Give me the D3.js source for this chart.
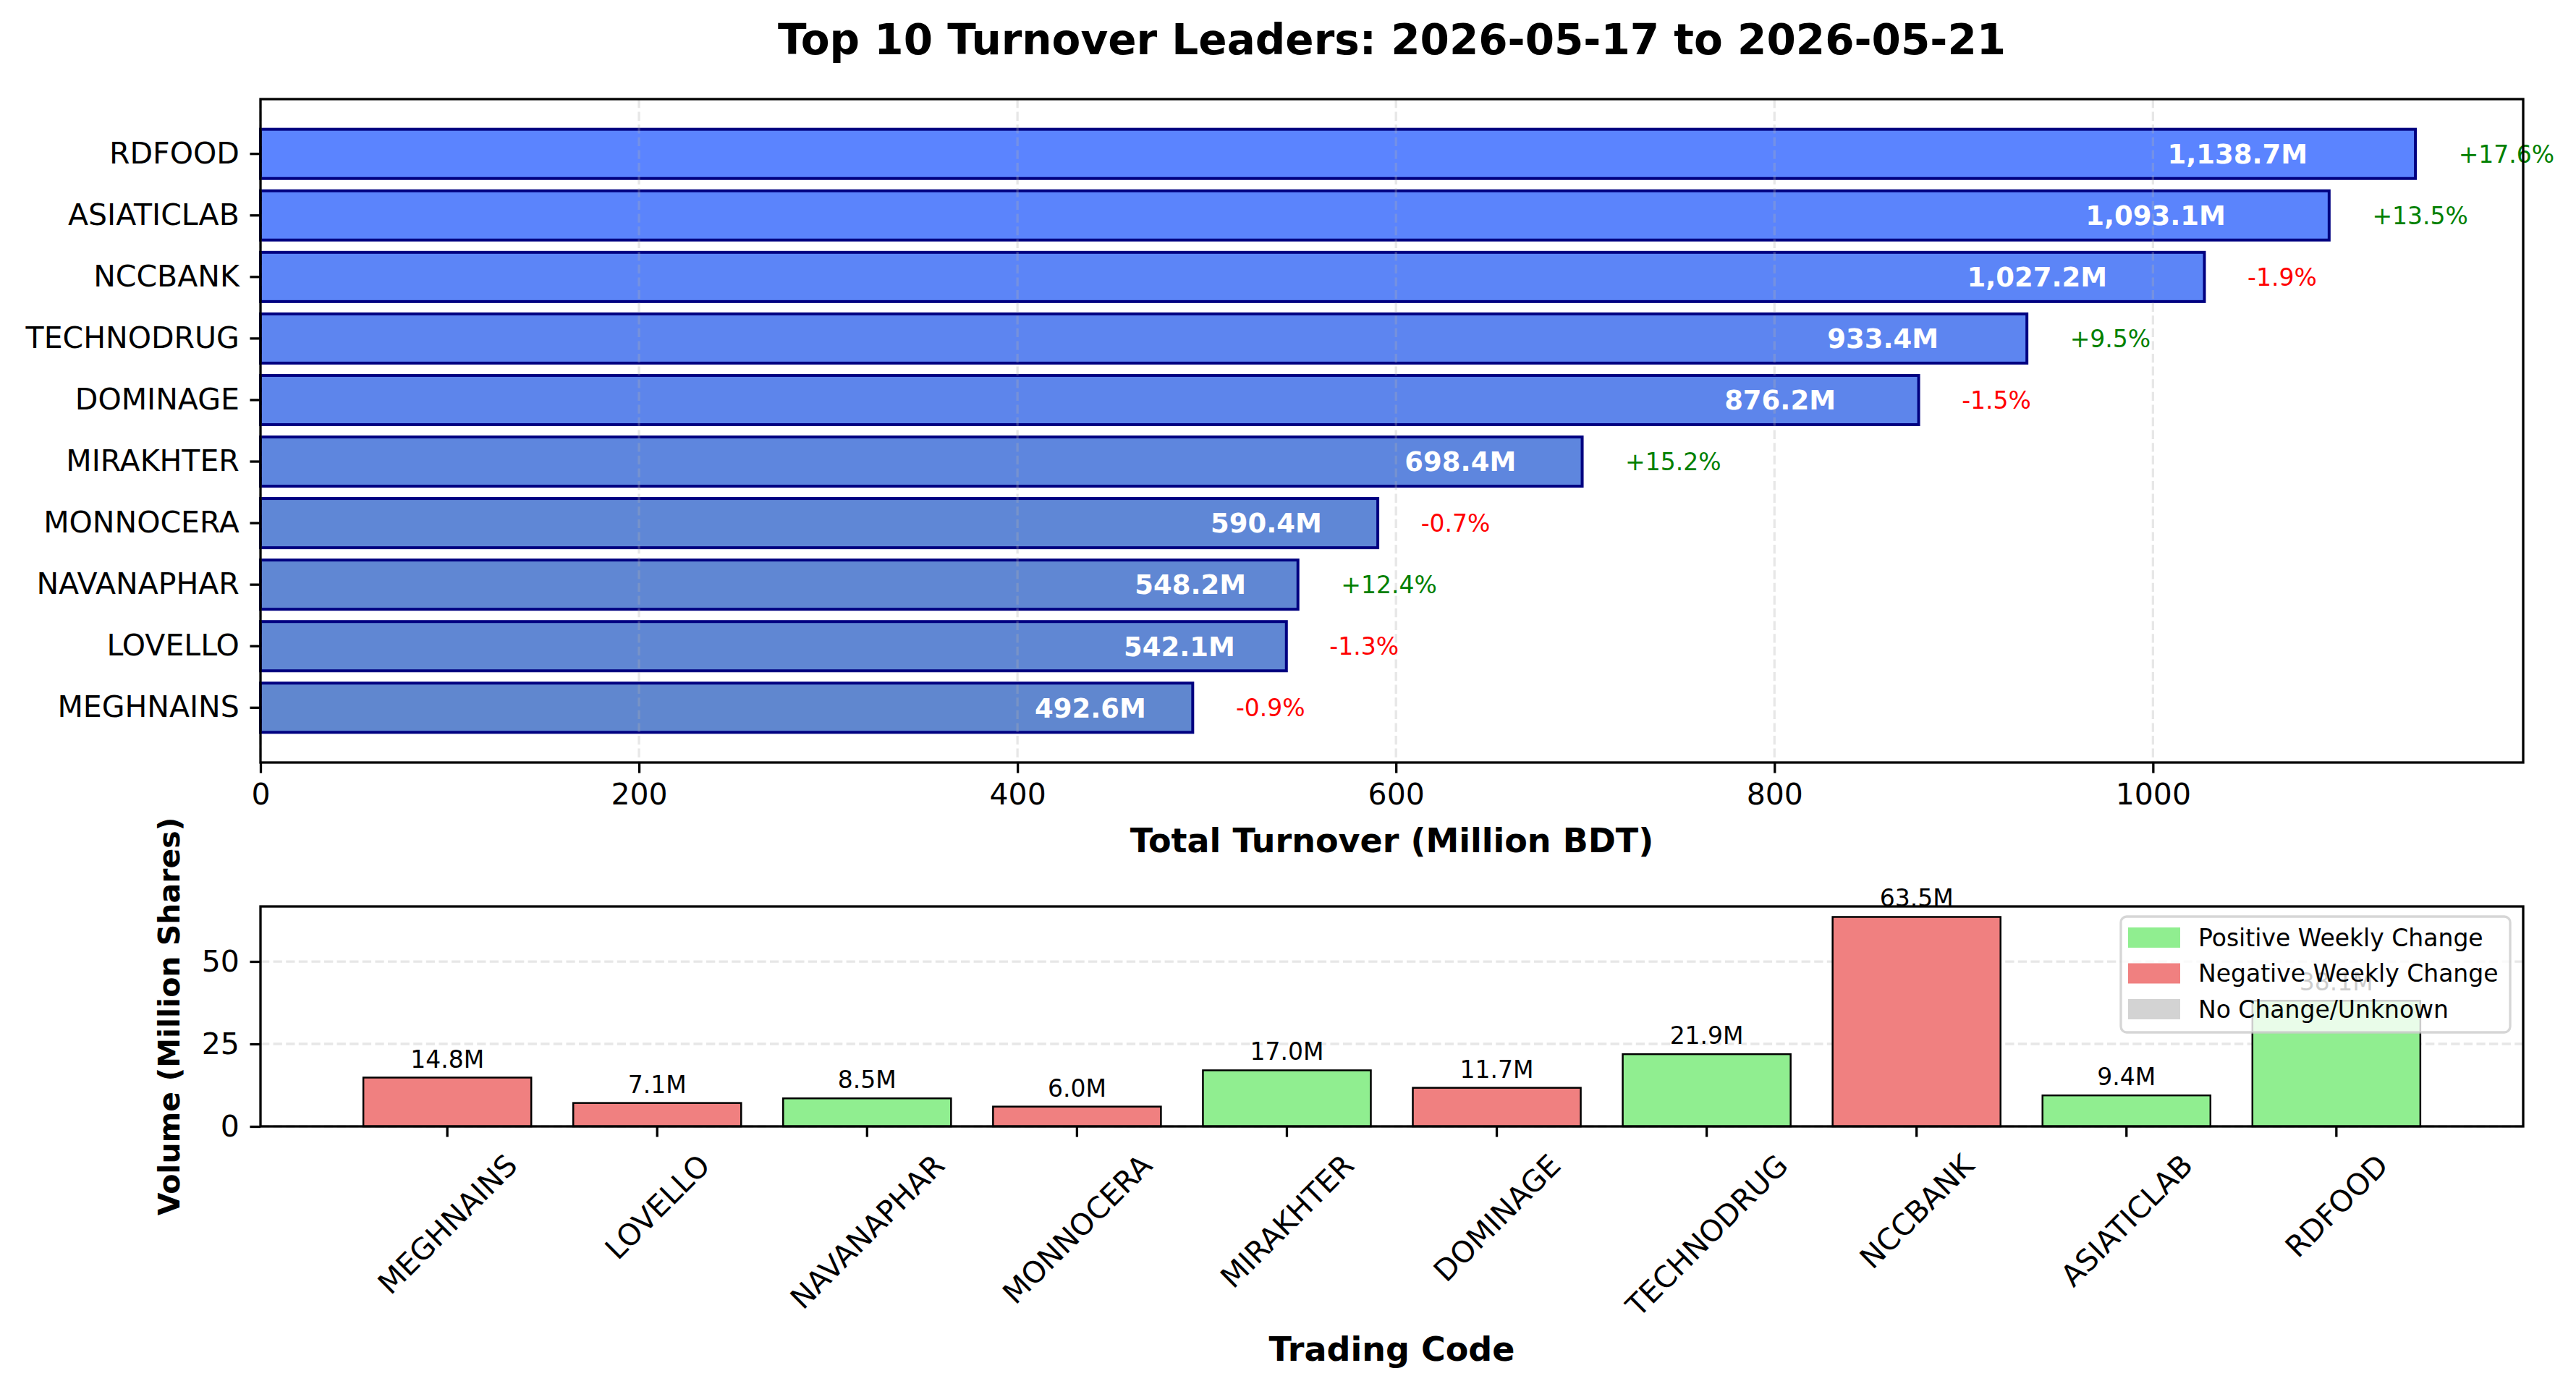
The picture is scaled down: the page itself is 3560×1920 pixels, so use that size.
<!DOCTYPE html>
<html>
<head>
<meta charset="utf-8">
<script src="https://cdn.jsdelivr.net/npm/d3@7"></script>
<style>
  body { margin: 0; background: #fff; }
  text { font-family: "DejaVu Sans", sans-serif; }
</style>
</head>
<body>
<script>
// data, in ascending turnover order (bottom to top of the upper chart)
var codes = ["MEGHNAINS", "LOVELLO", "NAVANAPHAR", "MONNOCERA", "MIRAKHTER",
             "DOMINAGE", "TECHNODRUG", "NCCBANK", "ASIATICLAB", "RDFOOD"];
var turnover = [492.6, 542.1, 548.2, 590.4, 698.4, 876.2, 933.4, 1027.2, 1093.1, 1138.7];
var weeklyChange = [-0.9, -1.3, 12.4, -0.7, 15.2, -1.5, 9.5, -1.9, 13.5, 17.6];
var volume = [14.8, 7.1, 8.5, 6.0, 17.0, 11.7, 21.9, 63.5, 9.4, 38.1];
var turnoverTicks = [0, 200, 400, 600, 800, 1000];
var volumeTicks = [0, 25, 50];
var legendLabels = ["Positive Weekly Change", "Negative Weekly Change", "No Change/Unknown"];

var W = 3560, H = 1920;
var top_ = {left: 360, right: 3487, top: 137, bottom: 1054};
var bot = {left: 360, right: 3487, top: 1253, bottom: 1557};
var spineW = 3.3, tickLen = 14.6;

var svg = d3.select("body").append("svg")
    .attr("width", W).attr("height", H);
svg.append("rect").attr("width", W).attr("height", H).attr("fill", "#fff");

// title
svg.append("text")
    .attr("x", (top_.left + top_.right) / 2).attr("y", 75)
    .attr("text-anchor", "middle")
    .style("font-size", "58px").style("font-weight", "bold")
    .text("Top 10 Turnover Leaders: 2026-05-17 to 2026-05-21");

// ---------- upper chart: turnover ----------
var xT = d3.scaleLinear()
    .domain([0, d3.max(turnover) * 1.05])
    .range([top_.left, top_.right]);
var yT = d3.scaleBand()
    .domain(codes)
    .range([top_.bottom, top_.top])
    .paddingInner(0.2).paddingOuter(0.49);
var barColor = d3.scaleLinear()
    .domain([d3.min(turnover), d3.max(turnover)])
    .range(["#6087cf", "#5b84ff"]);

var g1 = svg.append("g");
g1.selectAll("rect.bar").data(codes).enter().append("rect")
    .attr("class", "bar")
    .attr("x", xT(0))
    .attr("y", function(d) { return yT(d); })
    .attr("width", function(d, i) { return xT(turnover[i]) - xT(0); })
    .attr("height", yT.bandwidth())
    .attr("fill", function(d, i) { return barColor(turnover[i]); })
    .attr("stroke", "#000080").attr("stroke-width", 4);

// vertical grid (on top of bars, like matplotlib default)
g1.selectAll("line.grid").data(turnoverTicks).enter().append("line")
    .attr("x1", function(d) { return xT(d); }).attr("x2", function(d) { return xT(d); })
    .attr("y1", top_.top).attr("y2", top_.bottom)
    .attr("stroke", "#b0b0b0").attr("stroke-opacity", 0.3)
    .attr("stroke-width", 3.3).attr("stroke-dasharray", "12.3,5.3");

var fmt = d3.format(",.1f");
g1.selectAll("text.val").data(codes).enter().append("text")
    .attr("x", function(d, i) { return xT(turnover[i] * 0.95); })
    .attr("y", function(d) { return yT(d) + yT.bandwidth() / 2; })
    .attr("dy", "0.36em")
    .attr("text-anchor", "end")
    .attr("fill", "#fff")
    .style("font-size", "37px").style("font-weight", "bold")
    .text(function(d, i) { return fmt(turnover[i]) + "M"; });

g1.selectAll("text.pct").data(codes).enter().append("text")
    .attr("x", function(d, i) { return xT(turnover[i] + d3.max(turnover) * 0.02); })
    .attr("y", function(d) { return yT(d) + yT.bandwidth() / 2; })
    .attr("dy", "0.36em")
    .attr("fill", function(d, i) { return weeklyChange[i] > 0 ? "green" : "red"; })
    .style("font-size", "33px")
    .text(function(d, i) {
        var c = weeklyChange[i];
        return (c > 0 ? "+" : "") + c.toFixed(1) + "%";
    });

g1.append("rect")
    .attr("x", top_.left).attr("y", top_.top)
    .attr("width", top_.right - top_.left).attr("height", top_.bottom - top_.top)
    .attr("fill", "none").attr("stroke", "#000").attr("stroke-width", spineW);

var axT = g1.append("g")
    .attr("transform", "translate(0," + top_.bottom + ")")
    .call(d3.axisBottom(xT).tickValues(turnoverTicks).tickFormat(d3.format("d"))
        .tickSize(tickLen).tickPadding(tickLen));
var axL = g1.append("g")
    .attr("transform", "translate(" + top_.left + ",0)")
    .call(d3.axisLeft(yT).tickSize(tickLen).tickPadding(tickLen));

g1.append("text")
    .attr("x", (top_.left + top_.right) / 2).attr("y", 1161)
    .attr("dy", "0.36em").attr("text-anchor", "middle")
    .style("font-size", "46px").style("font-weight", "bold")
    .text("Total Turnover (Million BDT)");

// ---------- lower chart: volume ----------
var xB = d3.scaleBand()
    .domain(codes)
    .range([bot.left, bot.right])
    .paddingInner(0.2).paddingOuter(0.49);
var yB = d3.scaleLinear()
    .domain([0, d3.max(volume) * 1.05])
    .range([bot.bottom, bot.top]);

var g2 = svg.append("g");
g2.selectAll("line.grid").data(volumeTicks).enter().append("line")
    .attr("x1", bot.left).attr("x2", bot.right)
    .attr("y1", function(d) { return yB(d); }).attr("y2", function(d) { return yB(d); })
    .attr("stroke", "#b0b0b0").attr("stroke-opacity", 0.3)
    .attr("stroke-width", 3.3).attr("stroke-dasharray", "12.3,5.3");

function volColor(c) {
    if (c > 0) return "#90ee90";
    if (c < 0) return "#f08080";
    return "#d3d3d3";
}

g2.selectAll("rect.bar").data(codes).enter().append("rect")
    .attr("x", function(d) { return xB(d); })
    .attr("y", function(d, i) { return yB(volume[i]); })
    .attr("width", xB.bandwidth())
    .attr("height", function(d, i) { return yB(0) - yB(volume[i]); })
    .attr("fill", function(d, i) { return volColor(weeklyChange[i]); })
    .attr("stroke", "#000").attr("stroke-width", 2.5);

g2.selectAll("text.vol").data(codes).enter().append("text")
    .attr("x", function(d) { return xB(d) + xB.bandwidth() / 2; })
    .attr("y", function(d, i) { return yB(volume[i]) - 14; })
    .attr("text-anchor", "middle")
    .style("font-size", "33px")
    .text(function(d, i) { return volume[i].toFixed(1) + "M"; });

g2.append("rect")
    .attr("x", bot.left).attr("y", bot.top)
    .attr("width", bot.right - bot.left).attr("height", bot.bottom - bot.top)
    .attr("fill", "none").attr("stroke", "#000").attr("stroke-width", spineW);

var axB = g2.append("g")
    .attr("transform", "translate(0," + bot.bottom + ")")
    .call(d3.axisBottom(xB).tickSize(tickLen).tickPadding(tickLen));
var axBL = g2.append("g")
    .attr("transform", "translate(" + bot.left + ",0)")
    .call(d3.axisLeft(yB).tickValues(volumeTicks).tickFormat(d3.format("d"))
        .tickSize(tickLen).tickPadding(tickLen));

[axT, axL, axB, axBL].forEach(function(a) {
    a.select(".domain").remove();
    a.selectAll(".tick line").attr("stroke", "#000").attr("stroke-width", 3.3);
    a.selectAll(".tick text").attr("fill", "#000")
        .attr("font-family", null).attr("font-size", null)
        .style("font-family", "DejaVu Sans").style("font-size", "41px");
});
axT.attr("font-size", null).attr("font-family", null);
axL.attr("font-size", null).attr("font-family", null);
axB.attr("font-size", null).attr("font-family", null);
axBL.attr("font-size", null).attr("font-family", null);

// rotate category labels 45deg, bbox centred on the tick like matplotlib
axB.selectAll(".tick text").each(function() {
    var t = d3.select(this);
    var w = this.getComputedTextLength();
    var hh = 41 * 1.16;
    var cy = tickLen * 2 + (w + hh) * Math.SQRT1_2 / 2;
    t.attr("y", 0).attr("dy", "0.36em")
        .attr("text-anchor", "middle")
        .attr("transform", "translate(0," + cy + ") rotate(-45)");
});

g2.append("text")
    .attr("transform", "translate(233," + (bot.top + bot.bottom) / 2 + ") rotate(-90)")
    .attr("dy", "0.36em").attr("text-anchor", "middle")
    .style("font-size", "41px").style("font-weight", "bold")
    .text("Volume (Million Shares)");

g2.append("text")
    .attr("x", (bot.left + bot.right) / 2).attr("y", 1864)
    .attr("dy", "0.36em").attr("text-anchor", "middle")
    .style("font-size", "46px").style("font-weight", "bold")
    .text("Trading Code");

// legend
var legColors = ["#90ee90", "#f08080", "#d3d3d3"];
var leg = g2.append("g").attr("transform", "translate(2931,1267)");
leg.append("rect")
    .attr("width", 538).attr("height", 160).attr("rx", 8)
    .attr("fill", "#fff").attr("fill-opacity", 0.8)
    .attr("stroke", "#cccccc").attr("stroke-opacity", 0.8).attr("stroke-width", 3.3);
var items = leg.selectAll("g.item").data(legendLabels).enter().append("g")
    .attr("transform", function(d, i) { return "translate(0," + (29 + i * 49.5) + ")"; });
items.append("rect")
    .attr("x", 10).attr("y", -14).attr("width", 72).attr("height", 28)
    .attr("fill", function(d, i) { return legColors[i]; });
items.append("text")
    .attr("x", 107).attr("dy", "0.36em")
    .style("font-size", "33px")
    .text(function(d) { return d; });
</script>
</body>
</html>
